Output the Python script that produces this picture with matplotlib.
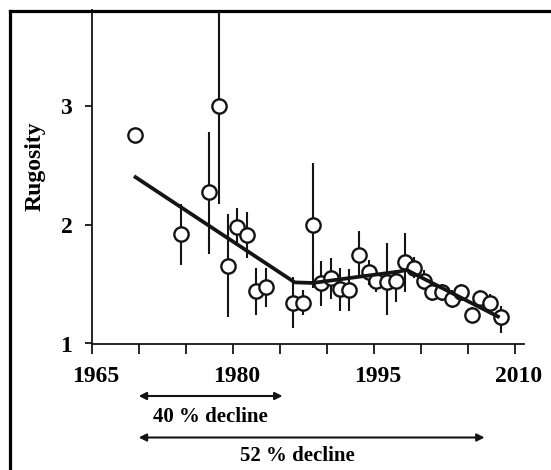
import numpy as np
import matplotlib
matplotlib.use('Agg')
import matplotlib.pyplot as plt
import matplotlib.transforms as mtransforms
from matplotlib.lines import Line2D

plt.rcParams['font.family'] = ['Liberation Serif', 'DejaVu Serif']
plt.rcParams['font.weight'] = 'bold'

# survey years and mean rugosity
years = [1969.6, 1974.5, 1977.5, 1978.5, 1979.5, 1980.5, 1981.5, 1982.5,
         1983.5, 1986.4, 1987.5, 1988.5, 1989.4, 1990.5, 1991.4, 1992.4,
         1993.4, 1994.5, 1995.3, 1996.4, 1997.4, 1998.3, 1999.3, 2000.4,
         2001.2, 2002.3, 2003.3, 2004.3, 2005.5, 2006.3, 2007.4, 2008.5]
rugosity = [2.76, 1.92, 2.28, 3.00, 1.655, 1.985, 1.91, 1.44,
            1.48, 1.34, 1.345, 2.00, 1.51, 1.55, 1.455, 1.45,
            1.745, 1.60, 1.53, 1.52, 1.53, 1.69, 1.64, 1.53,
            1.43, 1.43, 1.375, 1.43, 1.24, 1.38, 1.345, 1.225]
# upper / lower ends of the error bars
upper = [2.76, 2.175, 2.78, 3.85, 2.09, 2.14, 2.11, 1.635,
         1.635, 1.56, 1.45, 2.52, 1.695, 1.72, 1.635, 1.63,
         1.95, 1.70, 1.62, 1.845, 1.62, 1.93, 1.73, 1.62,
         1.50, 1.50, 1.45, 1.50, 1.31, 1.45, 1.42, 1.32]
lower = [2.76, 1.66, 1.755, 2.175, 1.22, 1.845, 1.72, 1.24,
         1.305, 1.13, 1.24, 1.47, 1.315, 1.375, 1.275, 1.27,
         1.565, 1.49, 1.435, 1.24, 1.35, 1.43, 1.55, 1.45,
         1.36, 1.36, 1.30, 1.36, 1.17, 1.31, 1.27, 1.09]

# fitted trend (segmented)
fit_years = [1969.5, 1986.6, 1988.5, 1993.5, 1997.6, 1998.5, 2008.4]
fit_vals = [2.41, 1.515, 1.51, 1.563, 1.605, 1.62, 1.22]

xticks_major = [1965, 1980, 1995, 2010]
yticks = [1, 2, 3]

ink = '#141414'

fig = plt.figure(figsize=(5.51, 4.70), dpi=100)
ax = fig.add_axes([91.7/551, 126.5/470, 431.8/551, 333.5/470])

y = np.array(rugosity)
err = [y - np.array(lower), np.array(upper) - y]
ax.errorbar(years, rugosity, yerr=err, fmt='none', ecolor=ink,
            elinewidth=1.5, capsize=0, zorder=2)
ax.plot(years, rugosity, 'o', ms=10.3, mfc='white', mec=ink, mew=1.7,
        zorder=3, clip_on=False)
ax.plot(fit_years, fit_vals, '-', color=ink, lw=2.7, zorder=4,
        solid_capstyle='butt')

ax.set_xlim(1965, 2010.94)
ax.set_ylim(1, 3.81)
ax.set_xticks(xticks_major)
ax.set_xticks(np.arange(1965, 2011, 5), minor=True)
ax.set_yticks(yticks)
ax.tick_params(axis='x', which='both', direction='out', length=7.5,
               width=1.3, color=ink, pad=9, labelsize=17)
ax.tick_params(axis='y', direction='out', length=5, width=1.3,
               color=ink, pad=9, labelsize=17)
for s in ['top', 'right']:
    ax.spines[s].set_visible(False)
for s in ['left', 'bottom']:
    ax.spines[s].set_linewidth(1.3)
    ax.spines[s].set_color(ink)

# year labels sit a few pixels right of their ticks in the original
shift = mtransforms.ScaledTranslation(0.04, 0, fig.dpi_scale_trans)
for lab in ax.get_xticklabels():
    lab.set_transform(lab.get_transform() + shift)

fig.text(35/551, 1 - 166/470, 'Rugosity', rotation=90, ha='center',
         va='center', fontsize=17)

# decline arrows under the axis
trans = mtransforms.blended_transform_factory(ax.transData, fig.transFigure)
arrow_kw = dict(arrowstyle='<|-|>', lw=1.5, color=ink, mutation_scale=11,
                shrinkA=0, shrinkB=0)
ax.annotate('', xy=(1970, 1 - 396/470), xytext=(1985.3, 1 - 396/470),
            xycoords=trans, textcoords=trans, arrowprops=arrow_kw,
            annotation_clip=False)
ax.annotate('', xy=(1970, 1 - 437.5/470), xytext=(2006.8, 1 - 437.5/470),
            xycoords=trans, textcoords=trans, arrowprops=arrow_kw,
            annotation_clip=False)
ax.text(1977.6, 1 - 421.7/470, '40 % decline', transform=trans,
        ha='center', va='baseline', fontsize=15)
ax.text(1986.9, 1 - 461/470, '52 % decline', transform=trans,
        ha='center', va='baseline', fontsize=15)

# outer frame (only left and top edges fall inside the picture)
fy = 1 - 10.5/470
fx = 9.7/551
fig.add_artist(Line2D([fx, fx], [0, fy], transform=fig.transFigure,
                      lw=2.3, color='black', solid_capstyle='projecting'))
fig.add_artist(Line2D([fx, 1], [fy, fy], transform=fig.transFigure,
                      lw=2.3, color='black', solid_capstyle='projecting'))

fig.savefig('out.png', dpi=100)
